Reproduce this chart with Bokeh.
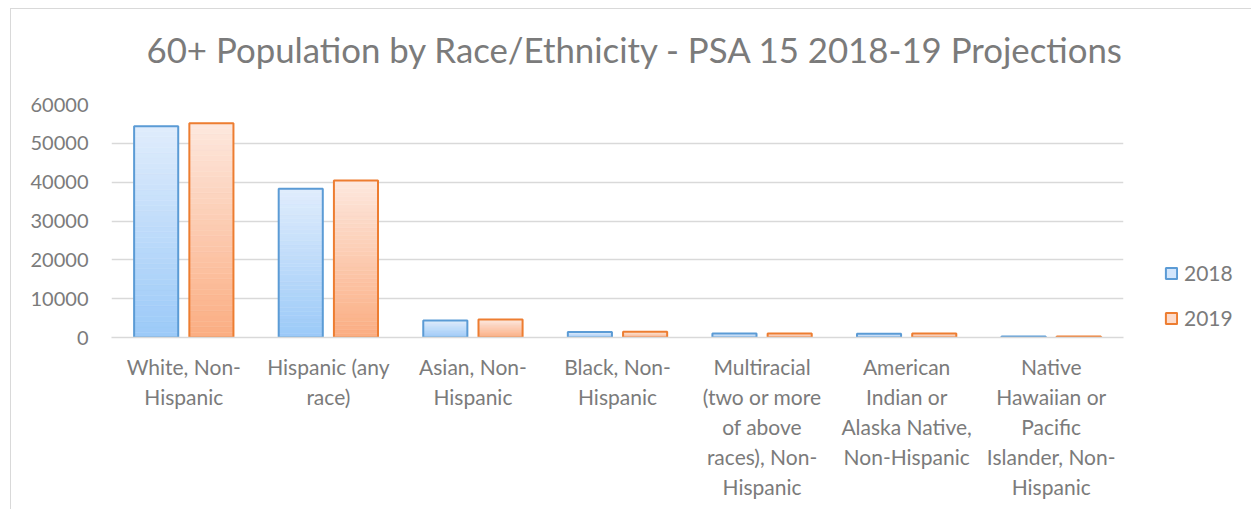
from bokeh.plotting import figure
from bokeh.models import (ColumnDataSource, FactorRange, Range1d, Legend, LegendItem,
                          NumeralTickFormatter)
from bokeh.layouts import row
from bokeh.transform import dodge
from bokeh.embed import file_html
from bokeh.resources import INLINE

# ---- data ----
categories = [
    "White, Non-\nHispanic",
    "Hispanic (any\nrace)",
    "Asian, Non-\nHispanic",
    "Black, Non-\nHispanic",
    "Multiracial\n(two or more\nof above\nraces), Non-\nHispanic",
    "American\nIndian or\nAlaska Native,\nNon-Hispanic",
    "Native\nHawaiian or\nPacific\nIslander, Non-\nHispanic",
]
series_names = ["2018", "2019"]
values_2018 = [54400, 38300, 4350, 1400, 1000, 950, 250]
values_2019 = [55200, 40400, 4650, 1450, 1050, 1000, 270]
y_ticks = [0, 10000, 20000, 30000, 40000, 50000, 60000]

TITLE = "60+ Population by Race/Ethnicity - PSA 15 2018-19 Projections"
FONT = "Lato"
TEXT = "#7b7b7b"
GRID = "#d9d9d9"

# style per series: (outline, top colour, bottom colour, dodge offset, legend fill)
styles = [
    ("#5b9bd5", (223, 236, 252), (156, 202, 248), -0.191, "#d3e6fc"),
    ("#ed7d31", (253, 231, 221), (251, 174, 131), 0.191, "#fddccc"),
]
BAR_W = 0.305
N_STRIPS = 40
SHIFT = {"margin-top": "-18px"}

p = figure(
    x_range=FactorRange(*categories, range_padding=0),
    y_range=Range1d(0, 60000),
    width=1122, height=518,
    output_backend="svg", toolbar_location=None,
    min_border_left=100, min_border_right=10,
    min_border_top=96, min_border_bottom=172,
    title=TITLE,
)
p.styles = SHIFT

p.title.align = "left"
p.title.offset = 35
p.title.vertical_align = "bottom"
p.title.text_font = FONT
p.title.text_font_size = "34.8px"
p.title.text_font_style = "normal"
p.title.text_color = TEXT
p.title.standoff = 70

p.outline_line_color = None
p.background_fill_color = "white"
p.border_fill_alpha = 0

p.xgrid.grid_line_color = None
p.ygrid.grid_line_color = GRID
p.ygrid.grid_line_width = 1.5

p.yaxis.ticker = y_ticks
p.yaxis.formatter = NumeralTickFormatter(format="0")
p.yaxis.axis_line_color = None
p.yaxis.major_tick_line_color = None
p.yaxis.minor_tick_line_color = None
p.yaxis.major_tick_out = 0
p.yaxis.major_tick_in = 0
p.yaxis.major_label_standoff = 23
p.yaxis.major_label_text_font = FONT
p.yaxis.major_label_text_font_size = "20px"
p.yaxis.major_label_text_color = TEXT

p.xaxis.axis_line_color = GRID
p.xaxis.axis_line_width = 1.5
p.xaxis.major_tick_line_color = None
p.xaxis.major_tick_out = 0
p.xaxis.major_tick_in = 0
p.xaxis.major_label_standoff = 16
p.xaxis.major_label_text_font = FONT
p.xaxis.major_label_text_font_size = "21px"
p.xaxis.major_label_text_color = TEXT
p.xaxis.major_label_text_line_height = 1.2

# legend-only plot to the right (its frame is aligned with the main frame)
p2 = figure(width=118, height=518, output_backend="svg", toolbar_location=None,
            x_range=Range1d(0, 1), y_range=Range1d(0, 1),
            x_axis_type=None, y_axis_type=None,
            min_border=0, min_border_left=0, min_border_right=0,
            min_border_top=0, min_border_bottom=0)
p2.styles = SHIFT
p2.outline_line_color = None
p2.border_fill_alpha = 0
p2.background_fill_alpha = 0
p2.xgrid.grid_line_color = None
p2.ygrid.grid_line_color = None

legend_items = []
for name, vals, (line_c, top_c, bot_c, off, leg_fill) in zip(series_names, [values_2018, values_2019], styles):
    src = ColumnDataSource(dict(cat=categories, val=vals))
    # gradient strips
    cats, bots, tops, cols = [], [], [], []
    for c, v in zip(categories, vals):
        for i in range(N_STRIPS):
            t = i / (N_STRIPS - 1)
            col = tuple(int(round(b + (a - b) * t)) for a, b in zip(top_c, bot_c))
            cats.append(c)
            bots.append(v * i / N_STRIPS)
            tops.append(v * (i + 1) / N_STRIPS)
            cols.append("#%02x%02x%02x" % col)
    ssrc = ColumnDataSource(dict(cat=cats, bottom=bots, top=tops, color=cols))
    p.vbar(x=dodge("cat", off, range=p.x_range), top="top", bottom="bottom", width=BAR_W,
           source=ssrc, fill_color="color", line_color="color", line_width=0.5)
    p.vbar(x=dodge("cat", off, range=p.x_range), top="val", bottom=0, width=BAR_W,
           source=src, fill_color=None, line_color=line_c, line_width=2)
    # legend proxy: a glyph with no drawable geometry, used only for the swatch
    proxy = ColumnDataSource(dict(x=[float("nan")], top=[float("nan")]))
    swatch = p2.vbar(x="x", top="top", width=0.1, source=proxy,
                     fill_color=leg_fill, line_color=line_c, line_width=2)
    legend_items.append(LegendItem(label=name, renderers=[swatch]))

legend = Legend(items=legend_items, location=(31, 7))
legend.border_line_color = None
legend.background_fill_alpha = 0
legend.padding = 0
legend.margin = 0
legend.glyph_width = 14
legend.glyph_height = 14
legend.label_text_font = FONT
legend.label_text_font_size = "21px"
legend.label_text_color = TEXT
legend.label_standoff = 6
legend.spacing = 20
p2.add_layout(legend, "center")

layout = row(p, p2)
layout.styles = {"margin-left": "10px", "margin-top": "8px",
                 "border-left": "1px solid #d9d9d9", "border-top": "1px solid #d9d9d9"}

open("out.html", "w").write(file_html(layout, INLINE))
